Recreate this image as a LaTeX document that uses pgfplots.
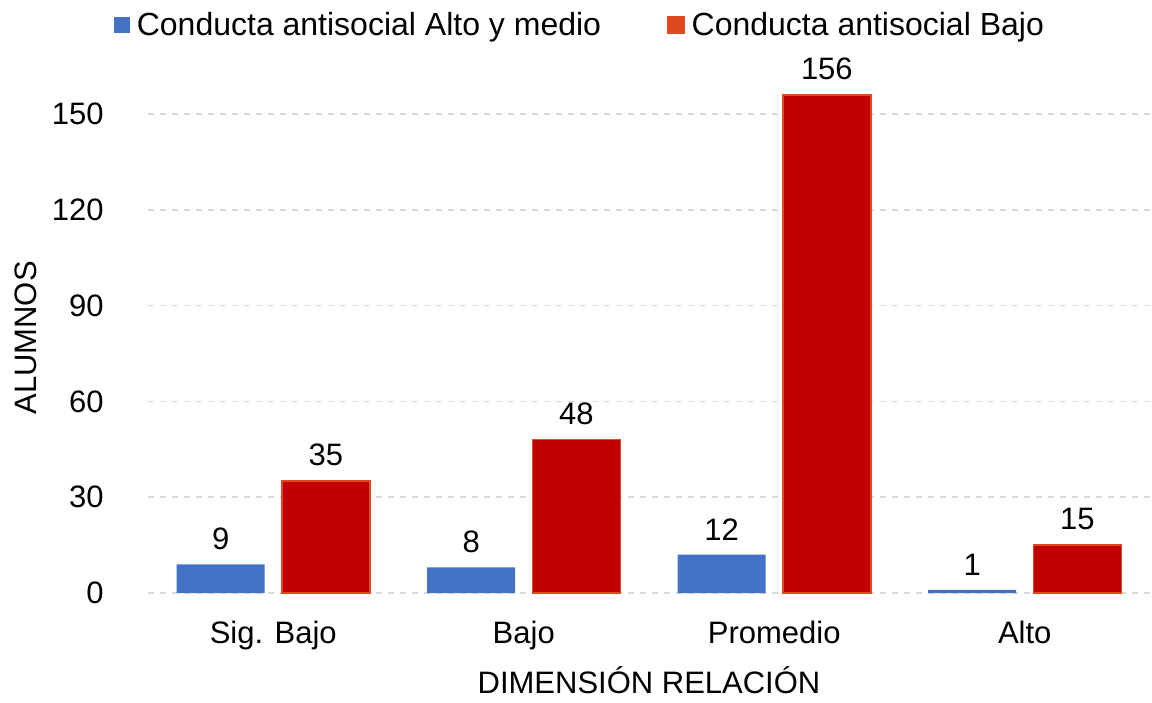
\documentclass[border=0pt]{standalone}
\usepackage{fontspec}
\setmainfont{Liberation Sans}
\usepackage{pgfplots}
\pgfplotsset{compat=1.18}
\definecolor{cblue}{HTML}{4472C4}
\definecolor{cred}{HTML}{C00000}
\definecolor{cedge}{HTML}{E0481E}
\definecolor{cgrid}{HTML}{D9D9D9}
\begin{document}
\begin{tikzpicture}
\begin{axis}[
  scale only axis,
  width=501pt, height=263.5pt,
  ybar,
  xmin=-0.5, xmax=3.5,
  ymin=0, ymax=165,
  xtick={0,1,2,3},
  xticklabels={Sig. Bajo, Bajo, Promedio, Alto},
  ytick={0,30,60,90,120,150},
  axis line style={draw=none},
  major tick length=0pt,
  ymajorgrids,
  grid style={cgrid, dashed, line width=0.8pt},
  /pgf/number format/assume math mode=true,
  tick label style={font=\fontsize{15.5}{18}\selectfont},
  xticklabel style={anchor=base, yshift=-25pt},
  yticklabel style={xshift=-18.7pt},
  label style={font=\fontsize{15.5}{18}\selectfont},
  xlabel={DIMENSIÓN RELACIÓN},
  ylabel={ALUMNOS},
  xlabel style={at={(axis description cs:0.5,0)}, anchor=base, yshift=-50pt},
  ylabel style={at={(axis description cs:0,0.484)}, anchor=base, yshift=55.5pt},
  bar width=0.351,
  nodes near coords,
  every node near coord/.append style={font=\fontsize{15.5}{18}\selectfont, yshift=3.8pt},
  legend columns=2,
  legend style={draw=none, fill=none, at={(0.432,1.0778)}, anchor=center,
    font=\fontsize{16}{18}\selectfont,
    /tikz/every even column/.append style={column sep=31pt}},
]
\addplot[fill=cblue, draw=none, bar shift=-0.21,
  /pgfplots/legend image code/.code={\fill[cblue] (0pt,-4pt) rectangle (8pt,4pt); \path (9.5pt,0pt);}]
  coordinates {(0,9) (1,8) (2,12) (3,1)};
\addplot[fill=cred, draw=cedge, line width=0.8pt, bar shift=0.21,
  /pgfplots/legend image code/.code={\fill[cedge] (0pt,-4pt) rectangle (8pt,4pt); \path (9.5pt,0pt);}]
  coordinates {(0,35) (1,48) (2,156) (3,15)};
\legend{Conducta antisocial Alto y medio, Conducta antisocial Bajo}
\end{axis}
\path ([shift={(-74pt,-54.5pt)}]current axis.south west) rectangle ([shift={(1pt,33pt)}]current axis.north east);
\end{tikzpicture}
\end{document}
